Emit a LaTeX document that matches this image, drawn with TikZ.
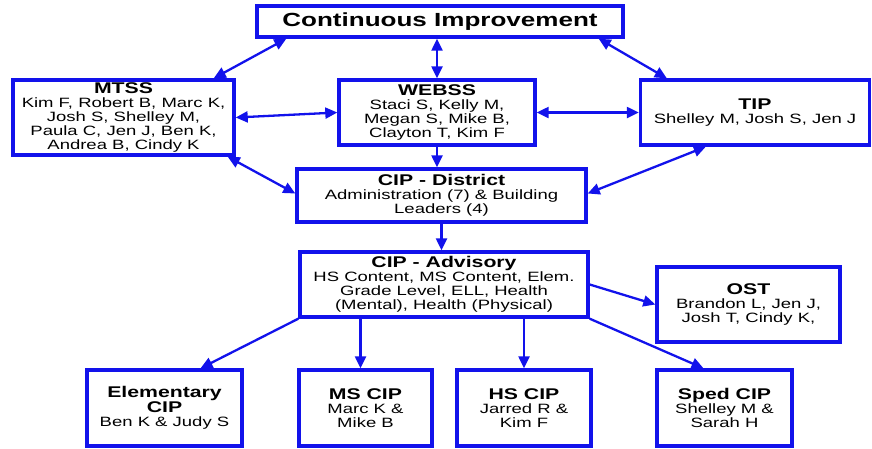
\documentclass[tikz,border=0pt]{standalone}
\usepackage{fontspec}
\setmainfont{Liberation Sans}[FakeStretch=1.37]
\usetikzlibrary{arrows.meta, calc}
\definecolor{orgblue}{RGB}{18,18,235}
\newcommand{\grp}[1]{{\bfseries\fontsize{15.5}{14}\selectfont #1}}

\begin{document}
\begin{tikzpicture}[
    x=1pt, y=-1pt,
    team/.style = {draw=orgblue, line width=3.4pt, align=center, inner sep=0pt, font=\fontsize{13.5}{14}\selectfont},
    link/.style = {-{Triangle[length=12pt,width=11pt]}, draw=orgblue, line width=2.3pt},
    both/.style = {{Triangle[length=12pt,width=11pt]}-{Triangle[length=12pt,width=11pt]}, draw=orgblue, line width=2.3pt}
  ]
  \useasboundingbox (0,0) rectangle (872,448);

  % top row
  \node[team, minimum width=366pt, minimum height=31pt, font=\bfseries\fontsize{19}{20}\selectfont] (ci) at (440,21.5) {Continuous Improvement};
  \node[team, minimum width=221pt, minimum height=75pt] (mtss) at (123.5,117.5) {\grp{MTSS}\\ Kim F, Robert B, Marc K,\\ Josh S, Shelley M,\\ Paula C, Jen J, Ben K,\\ Andrea B, Cindy K};
  \node[team, minimum width=196pt, minimum height=65pt] (webss) at (437,112.5) {\grp{WEBSS}\\ Staci S, Kelly M,\\ Megan S, Mike B,\\ Clayton T, Kim F};
  \node[team, minimum width=229pt, minimum height=65pt] (tip) at (755,112.5) {\grp{TIP}\\ Shelley M, Josh S, Jen J};

  % district and advisory
  \node[team, minimum width=289pt, minimum height=53pt] (dist) at (441.5,195.5) {\grp{CIP - District}\\ Administration (7) \& Building\\ Leaders (4)};
  \node[team, minimum width=288pt, minimum height=65pt] (adv) at (444,284.5) {\grp{CIP - Advisory}\\ HS Content, MS Content, Elem.\\ Grade Level, ELL, Health\\ (Mental), Health (Physical)};
  \node[team, minimum width=183pt, minimum height=75pt] (ost) at (748.5,304.5) {\grp{OST}\\ Brandon L, Jen J,\\ Josh T, Cindy K,};

  % school level teams
  \node[team, minimum width=155pt, minimum height=76pt] (elem) at (164.5,408) {\grp{Elementary}\\ \grp{CIP}\\ Ben K \& Judy S};
  \node[team, minimum width=133pt, minimum height=76pt] (mscip) at (365.5,408) {\grp{MS CIP}\\ Marc K \&\\ Mike B};
  \node[team, minimum width=134pt, minimum height=76pt] (hscip) at (524,408) {\grp{HS CIP}\\ Jarred R \&\\ Kim F};
  \node[team, minimum width=135pt, minimum height=76pt] (sped) at (724.5,408) {\grp{Sped CIP}\\ Shelley M \&\\ Sarah H};

  % connectors
  \draw[both] ($(ci.south west)+(31,0)$) -- ($(mtss.north east)+(-22,0)$);
  \draw[both] (webss.north |- ci.south) -- (webss.north);
  \draw[both] ($(ci.south east)+(-26,0)$) -- ($(tip.north west)+(28,0)$);
  \draw[both] (mtss.east) -- (webss.west);
  \draw[both] (webss.east) -- (tip.west);
  \draw[link] (webss.south) -- (webss.south |- dist.north);
  \draw[both] ($(mtss.south east)+(-8,0)$) -- ($(dist.west)+(0,-2)$);
  \draw[both] ($(tip.south west)+(67,0)$) -- ($(dist.east)+(0,-2)$);
  \draw[link] (dist.south) -- (dist.south |- adv.north);
  \draw[link] (adv.south west) -- ($(elem.north)+(36,0)$);
  \draw[link] ($(mscip.north |- adv.south)+(-5,0)$) -- ($(mscip.north)+(-5,0)$);
  \draw[link] (hscip.north |- adv.south) -- (hscip.north);
  \draw[link] (adv.east) -- (ost.west);
  \draw[link] (adv.south east) -- ($(sped.north)+(-21,0)$);
\end{tikzpicture}
\end{document}
